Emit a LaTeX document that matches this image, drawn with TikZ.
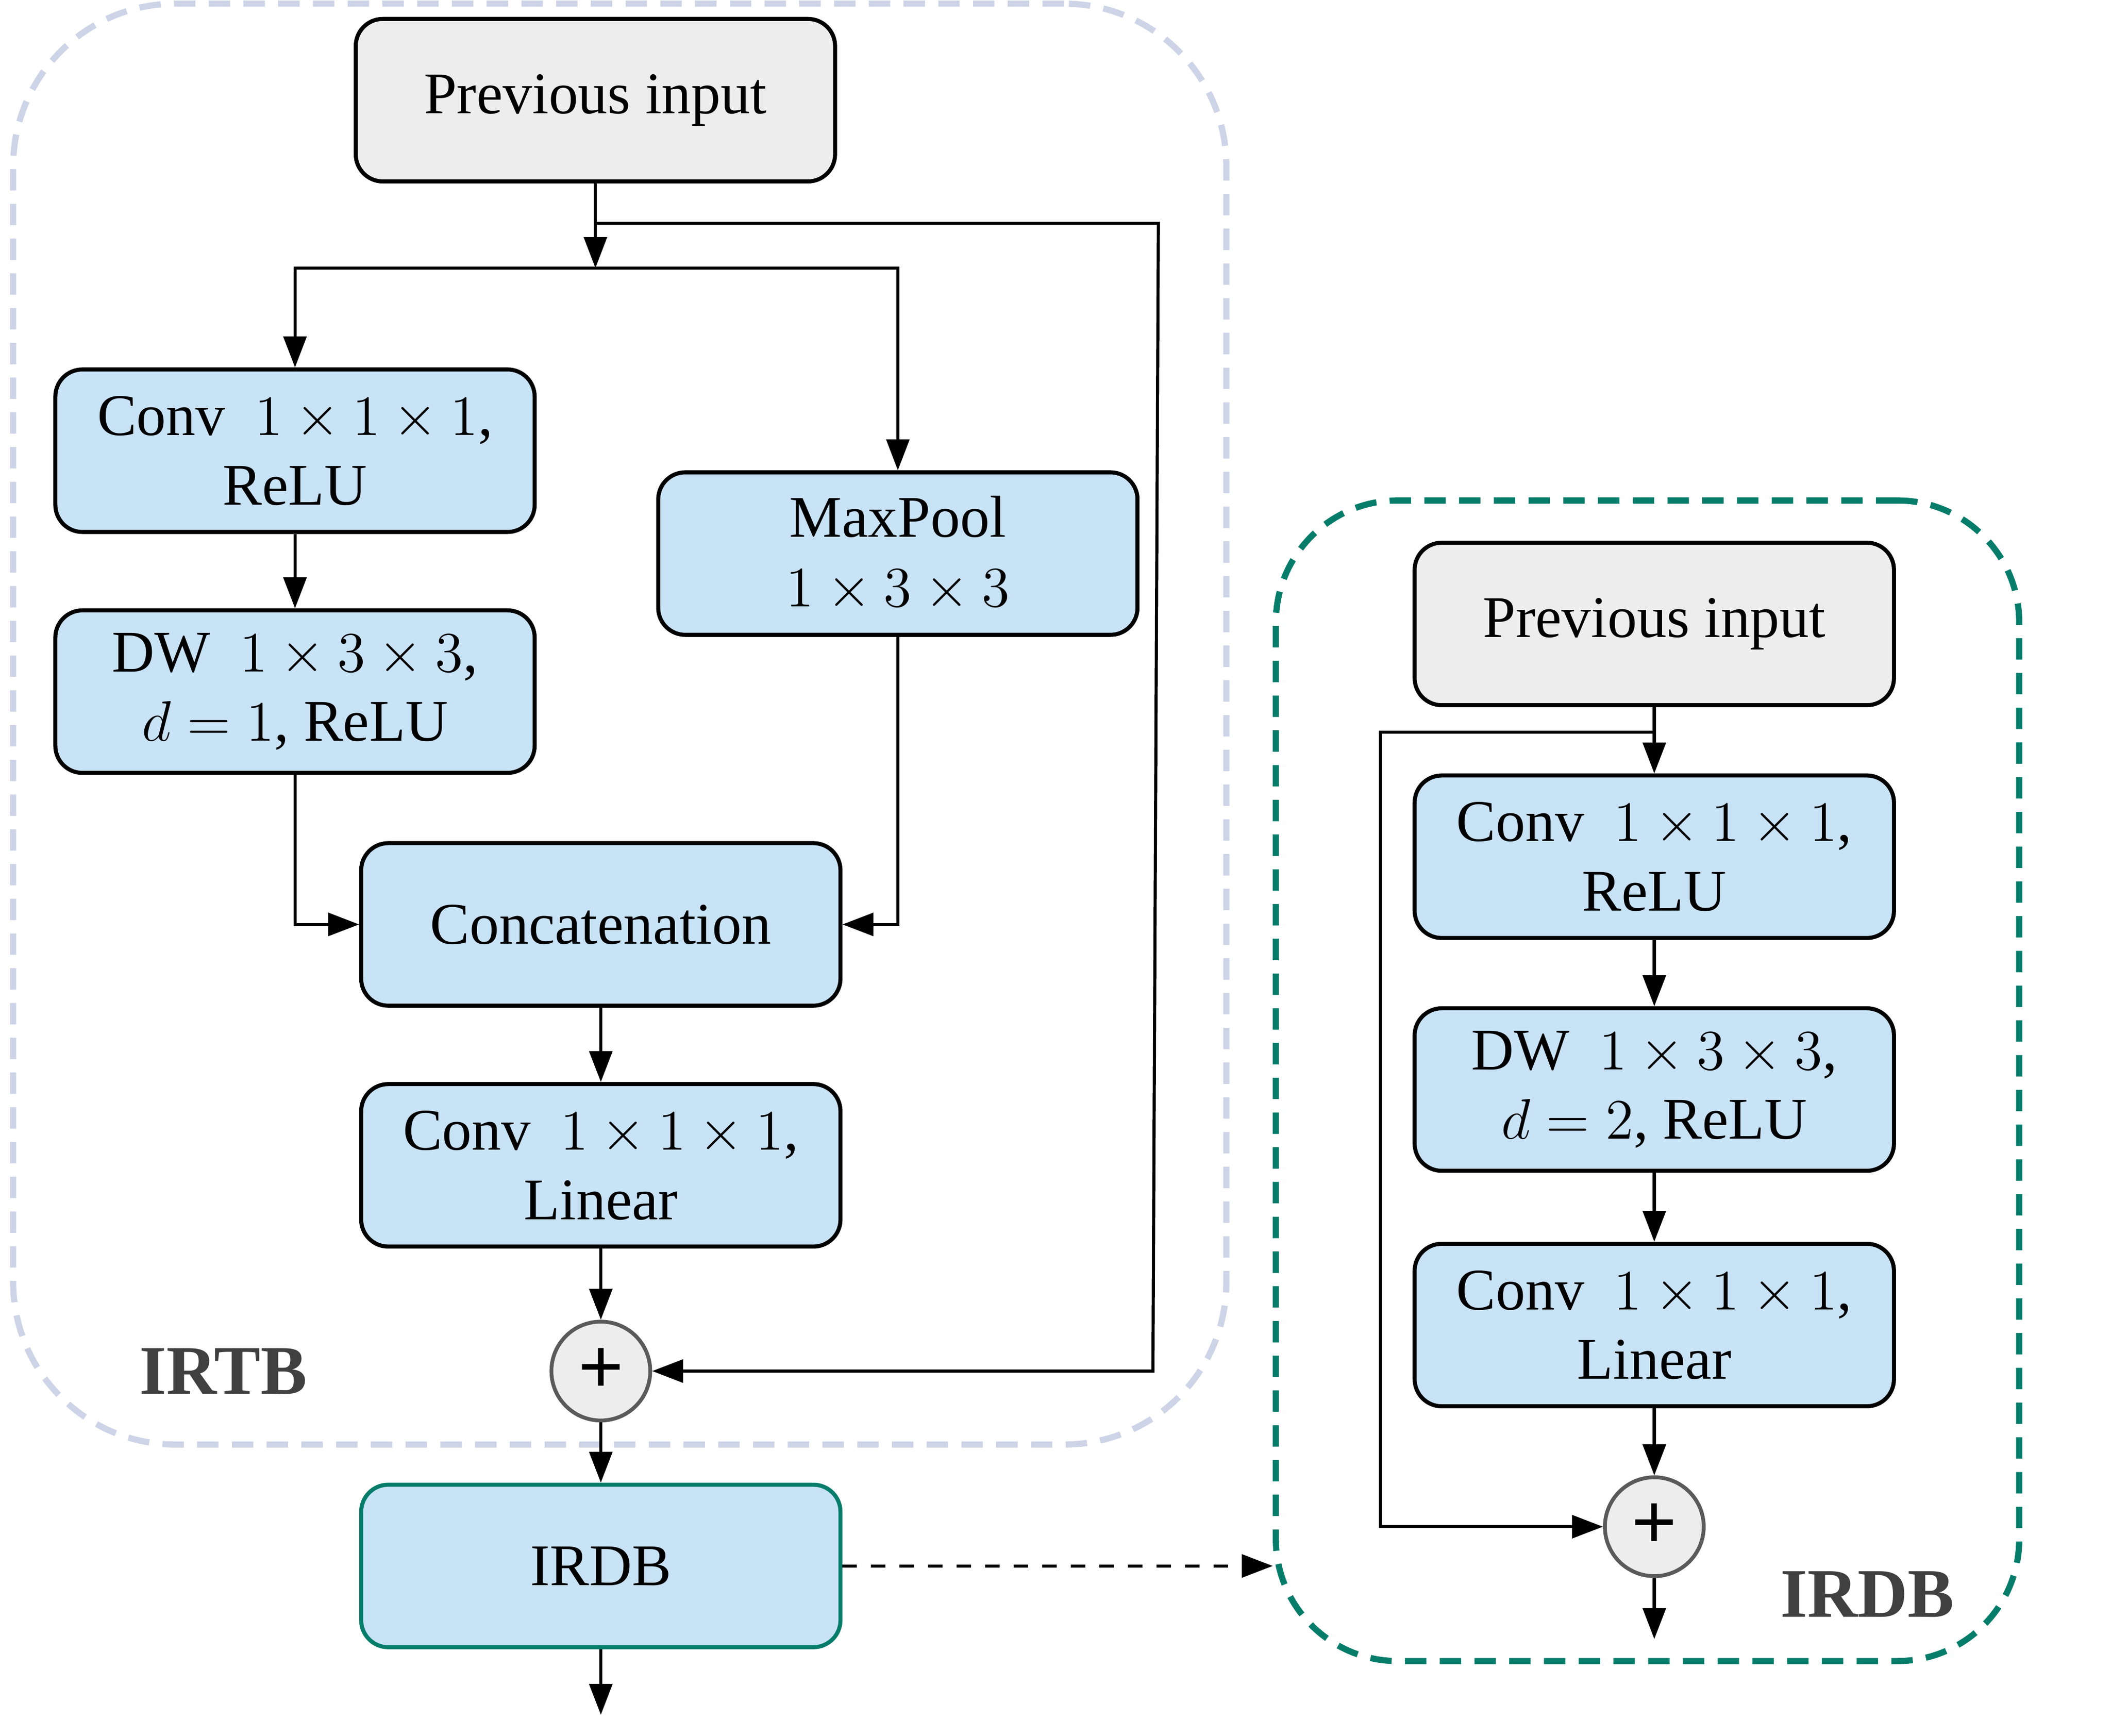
\documentclass[tikz,border=0pt]{standalone}
\usepackage{fontspec}
\setmainfont{Liberation Serif}
\usetikzlibrary{arrows.meta}
\definecolor{boxblue}{HTML}{C8E2F6}
\definecolor{boxgray}{HTML}{EDEDED}
\definecolor{tealc}{HTML}{067D6B}
\definecolor{irtbc}{HTML}{CDD4E7}
\definecolor{labgray}{HTML}{404040}
\definecolor{circb}{HTML}{5A5A5A}
\begin{document}
\begin{tikzpicture}[x=0.01cm,y=-0.01cm,
  font=\fontsize{12.4}{14.6}\selectfont,
  blk/.style={draw=black,line width=0.85pt,rounded corners=0.2cm,fill=boxblue,
    minimum width=3.54cm,minimum height=1.2cm,align=center,inner sep=0pt},
  inbox/.style={blk,fill=boxgray},
  sumc/.style={circle,draw=circb,line width=0.8pt,fill=boxgray,minimum size=0.73cm,inner sep=0pt,font=\fontsize{17}{17}\selectfont\bfseries},
  arr/.style={draw=black,line width=0.65pt,-{Triangle[length=6.5pt,width=4.8pt]}},
  grp/.style={dashed,line width=1.3pt,rounded corners=1.2cm,dash pattern=on 4.5pt off 2.8pt},
  grplab/.style={text=labgray,font=\fontsize{14.6}{16}\selectfont\bfseries}]
\useasboundingbox (0,0) rectangle (1560,1282.3);
% group boxes
\node[grp,draw=irtbc,minimum width=8.96cm,minimum height=10.64cm] (irtb) at (458,535) {};
\node[grp,draw=tealc,rounded corners=0.9cm,minimum width=5.49cm,minimum height=8.57cm] (irdbg) at (1217.5,798.5) {};
% left nodes
\node[inbox] (prevL) at (440,74) {Previous input};
\node[blk] (conv1L) at (218,333) {Conv~~$1\times1\times1$,\\ReLU};
\node[blk] (dwL) at (218,511) {DW~~$1\times3\times3$,\\$d=1$, ReLU};
\node[blk] (mpL) at (663.5,409) {MaxPool\\$1\times3\times3$};
\node[blk] (concat) at (444,683) {Concatenation};
\node[blk] (convlinL) at (444,861) {Conv~~$1\times1\times1$,\\Linear};
\node[sumc] (plusL) at (444,1013) {+};
\node[blk,draw=tealc] (irdbL) at (444,1157) {IRDB};
\node[grplab] (irtblab) at (165,1013) {IRTB};
% right nodes
\node[inbox] (prevR) at (1222.5,461) {Previous input};
\node[blk] (conv1R) at (1222.5,633) {Conv~~$1\times1\times1$,\\ReLU};
\node[blk] (dwR) at (1222.5,805) {DW~~$1\times3\times3$,\\$d=2$, ReLU};
\node[blk] (convlinR) at (1222.5,979) {Conv~~$1\times1\times1$,\\Linear};
\node[sumc] (plusR) at (1222.5,1128) {+};
\node[grplab] (irdblab) at (1380,1178) {IRDB};
% coordinates
\coordinate (bL) at (440,165);
\coordinate (jL) at (440,198);
\coordinate (sk1) at (856,165);
\coordinate (sk2) at (852,1013);
\coordinate (outL) at (444,1267);
\coordinate (bR) at (1222.5,541);
\coordinate (cR) at (1020,541);
\coordinate (outR) at (1222.5,1211);
% left connectors
\draw[arr] (prevL.south) -- (jL);
\draw[arr] (bL) -- (sk1) -- (sk2) -- (plusL.east);
\draw[arr] (jL) -| (conv1L.north);
\draw[arr] (jL) -| (mpL.north);
\draw[arr] (conv1L) -- (dwL);
\draw[arr] (dwL.south) |- (concat.west);
\draw[arr] (mpL.south) |- (concat.east);
\draw[arr] (concat) -- (convlinL);
\draw[arr] (convlinL) -- (plusL);
\draw[arr] (plusL) -- (irdbL);
\draw[arr] (irdbL.south) -- (outL);
\draw[arr,dashed] (irdbL.east) -- (irdbL.east -| irdbg.west);
% right connectors
\draw[arr] (prevR) -- (conv1R);
\draw[arr] (bR) -- (cR) |- (plusR.west);
\draw[arr] (conv1R) -- (dwR);
\draw[arr] (dwR) -- (convlinR);
\draw[arr] (convlinR) -- (plusR);
\draw[arr] (plusR.south) -- (outR);
\end{tikzpicture}
\end{document}
